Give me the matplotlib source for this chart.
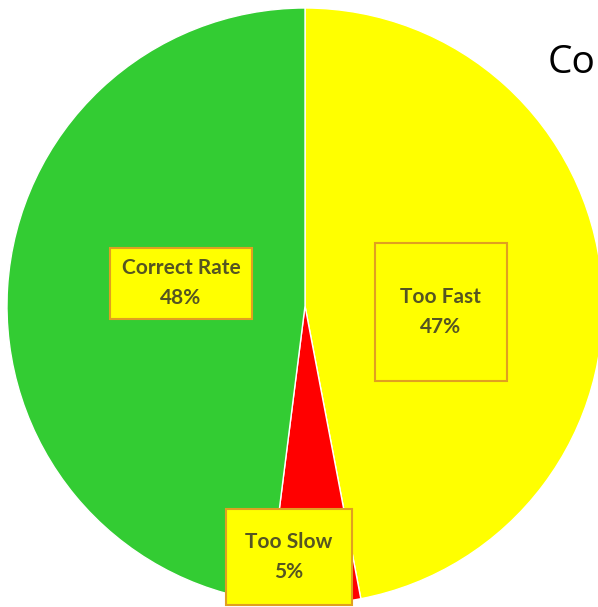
import matplotlib
matplotlib.use('Agg')
import matplotlib.pyplot as plt
from matplotlib.patches import Rectangle

# Slice data (clockwise from 12 o'clock)
labels = ['Too Fast', 'Too Slow', 'Correct Rate']
shares = [47, 5, 48]
colors = ['#FFFF00', '#FF0000', '#33CC33']

# label box centers / sizes (data units, pie radius = 1)
label_pos = [(0.456, -0.020), (-0.054, -0.842), (-0.416, 0.077)]
box_size = [(0.443, 0.463), (0.423, 0.322), (0.477, 0.238)]

fig = plt.figure(figsize=(5.98, 6.07), dpi=100)
ax = fig.add_axes([0, 0, 1, 1])

ax.pie(shares, colors=colors, startangle=90, counterclock=False,
       radius=1, wedgeprops=dict(edgecolor='white', linewidth=1))

for lab, val, (x, y), (w, h) in zip(labels, shares, label_pos, box_size):
    ax.add_patch(Rectangle((x - w / 2, y - h / 2), w, h, facecolor='#FFFF00',
                           edgecolor='#E0A020', linewidth=1.5, zorder=3))
    ax.text(x, y, f'{lab}\n{val}%', ha='center', va='center', fontsize=15,
            fontweight='bold', family='Lato', color='#555522',
            linespacing=1.65, zorder=4)

# title fragment at the top right (cut off in the reference)
fig.text(596 / 598, 1 - 73 / 607, 'Co', fontsize=28, family='Open Sans',
         color='black', ha='right', va='baseline')

ax.set_xlim(-305 / 298, 293 / 298)
ax.set_ylim(-301 / 298, 306 / 298)
ax.set_aspect('equal')
ax.axis('off')

fig.savefig('out.png', dpi=100)
